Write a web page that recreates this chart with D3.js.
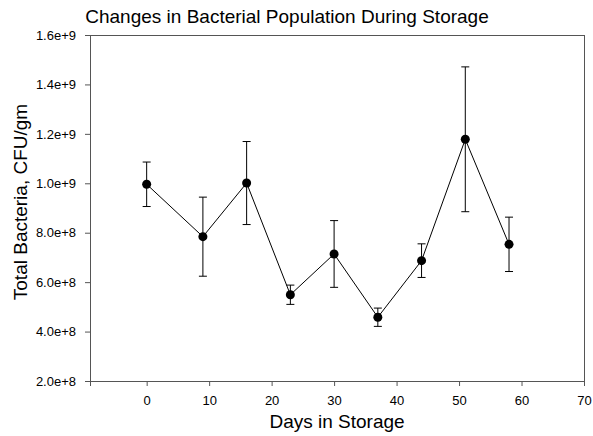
<!DOCTYPE html>
<html>
<head>
<meta charset="utf-8">
<script src="https://cdn.jsdelivr.net/npm/d3@7"></script>
<style>
  body { margin: 0; background: #fff; }
  svg text { font-family: "Liberation Sans", Arial, sans-serif; fill: #000; }
</style>
</head>
<body>
<div id="chart"></div>
<script>
  // values
  var days  = [0, 9, 16, 23, 30, 37, 44, 51, 58];
  var means = [0.996e9, 0.784e9, 1.001e9, 0.549e9, 0.714e9, 0.458e9, 0.687e9, 1.178e9, 0.753e9];
  var errs  = [0.090e9, 0.160e9, 0.168e9, 0.039e9, 0.135e9, 0.037e9, 0.068e9, 0.293e9, 0.110e9];
  var xTicks = [0, 10, 20, 30, 40, 50, 60, 70];
  var yTicks = [2e8, 4e8, 6e8, 8e8, 1e9, 1.2e9, 1.4e9, 1.6e9];

  var W = 593, H = 436;
  var pLeft = 90, pRight = 584, pTop = 35, pBottom = 381;

  var svg = d3.select("#chart").append("svg")
      .attr("width", W).attr("height", H);

  var x = d3.scaleLinear().domain([-9.07, 70]).range([pLeft, pRight]);
  var y = d3.scaleLinear().domain([2e8, 1.6e9]).range([pBottom, pTop]);

  var fmt = function (v) {
      var e = Math.floor(Math.log10(v));
      return (v / Math.pow(10, e)).toFixed(1) + "e+" + e;
  };

  // frame
  svg.append("rect")
      .attr("x", pLeft).attr("y", pTop)
      .attr("width", pRight - pLeft).attr("height", pBottom - pTop)
      .attr("fill", "none").attr("stroke", "#555").attr("stroke-width", 1)
      .attr("shape-rendering", "crispEdges");

  var xAxis = svg.append("g")
      .attr("transform", "translate(0," + pBottom + ")")
      .call(d3.axisBottom(x).tickValues(xTicks).tickSizeOuter(0).tickSize(5).tickPadding(10));
  var yAxis = svg.append("g")
      .attr("transform", "translate(" + pLeft + ",0)")
      .call(d3.axisLeft(y).tickValues(yTicks).tickFormat(fmt).tickSizeOuter(0).tickSize(5).tickPadding(9));

  [xAxis, yAxis].forEach(function (g) {
      g.select(".domain").attr("stroke", "#555");
      g.selectAll(".tick line").attr("stroke", "#555");
      g.selectAll(".tick text").attr("font-size", 13)
          .attr("font-family", "Liberation Sans, Arial, sans-serif").attr("fill", "#000");
  });

  var pts = days.map(function (d, i) { return {d: d, m: means[i], e: errs[i]}; });

  // connecting line
  svg.append("path")
      .datum(pts)
      .attr("fill", "none").attr("stroke", "#000").attr("stroke-width", 1)
      .attr("d", d3.line().x(function (p) { return x(p.d); }).y(function (p) { return y(p.m); }));

  // error bars
  var eb = svg.append("g").attr("stroke", "#000").attr("stroke-width", 1);
  eb.selectAll("line.v").data(pts).enter().append("line")
      .attr("x1", function (p) { return x(p.d); }).attr("x2", function (p) { return x(p.d); })
      .attr("y1", function (p) { return y(p.m + p.e); }).attr("y2", function (p) { return y(p.m - p.e); });
  eb.selectAll("line.t").data(pts).enter().append("line")
      .attr("x1", function (p) { return x(p.d) - 4; }).attr("x2", function (p) { return x(p.d) + 4; })
      .attr("y1", function (p) { return y(p.m + p.e); }).attr("y2", function (p) { return y(p.m + p.e); });
  eb.selectAll("line.b").data(pts).enter().append("line")
      .attr("x1", function (p) { return x(p.d) - 4; }).attr("x2", function (p) { return x(p.d) + 4; })
      .attr("y1", function (p) { return y(p.m - p.e); }).attr("y2", function (p) { return y(p.m - p.e); });

  // markers
  svg.selectAll("circle").data(pts).enter().append("circle")
      .attr("cx", function (p) { return x(p.d); })
      .attr("cy", function (p) { return y(p.m); })
      .attr("r", 4.5).attr("fill", "#000");

  // titles
  svg.append("text").attr("x", 287).attr("y", 23)
      .attr("text-anchor", "middle").attr("font-size", 19)
      .text("Changes in Bacterial Population During Storage");
  svg.append("text").attr("x", 337).attr("y", 428)
      .attr("text-anchor", "middle").attr("font-size", 19)
      .text("Days in Storage");
  svg.append("text")
      .attr("transform", "translate(27,202) rotate(-90)")
      .attr("text-anchor", "middle").attr("font-size", 19)
      .text("Total Bacteria, CFU/gm");
</script>
</body>
</html>
